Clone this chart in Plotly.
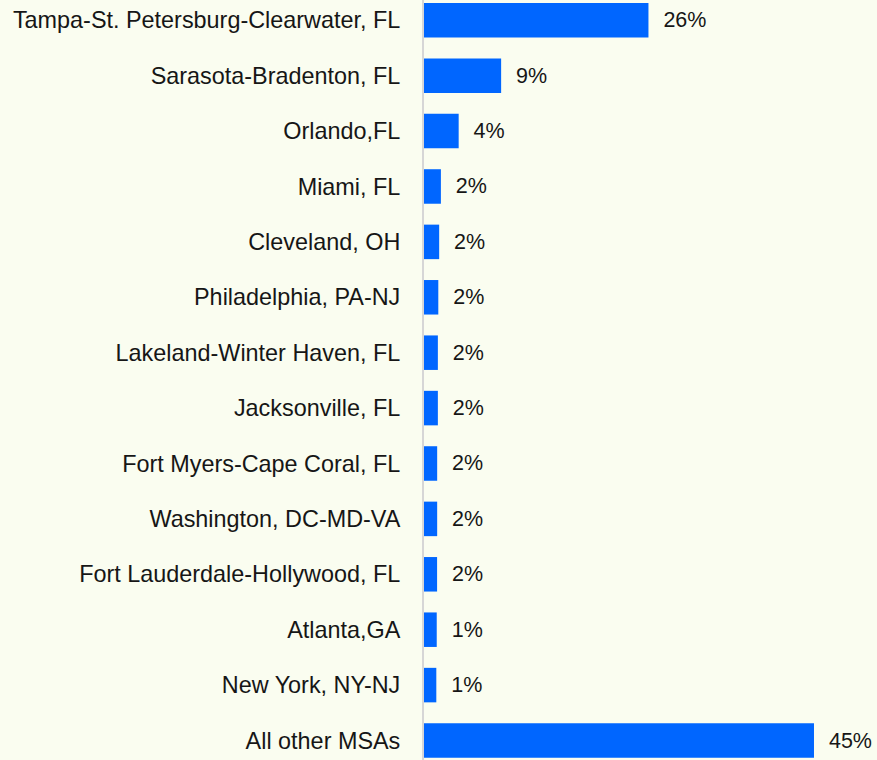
import plotly.graph_objects as go

# Share of total by metro area (percent)
msas = [
    "Tampa-St. Petersburg-Clearwater, FL",
    "Sarasota-Bradenton, FL",
    "Orlando,FL",
    "Miami, FL",
    "Cleveland, OH",
    "Philadelphia, PA-NJ",
    "Lakeland-Winter Haven, FL",
    "Jacksonville, FL",
    "Fort Myers-Cape Coral, FL",
    "Washington, DC-MD-VA",
    "Fort Lauderdale-Hollywood, FL",
    "Atlanta,GA",
    "New York, NY-NJ",
    "All other MSAs",
]
shares = [25.9, 8.9, 4.0, 1.95, 1.75, 1.65, 1.6, 1.6, 1.52, 1.52, 1.51, 1.47, 1.42, 45.0]

BG = "#FAFDF0"
BAR = "#0066FF"
INK = "#161616"
FONT = "Liberation Sans, Arial, sans-serif"

fig = go.Figure(
    go.Bar(
        x=shares,
        y=msas,
        orientation="h",
        width=0.623,
        marker=dict(color=BAR, line=dict(width=0)),
        texttemplate="\u00a0\u00a0%{x:.0f}%",
        textposition="outside",
        textfont=dict(family=FONT, size=21.5, color=INK),
        constraintext="none",
        cliponaxis=False,
        hoverinfo="skip",
    )
)

fig.update_layout(
    width=877,
    height=760,
    margin=dict(l=424, r=0, t=0, b=0),
    paper_bgcolor=BG,
    plot_bgcolor=BG,
    showlegend=False,
    font=dict(family=FONT, color=INK),
)

fig.update_xaxes(
    range=[0, 52.27],
    showgrid=False,
    zeroline=False,
    showticklabels=False,
    showline=False,
)

fig.update_yaxes(
    type="category",
    categoryorder="array",
    categoryarray=msas,
    range=[13.352, -0.366],
    showgrid=False,
    zeroline=False,
    showline=True,
    linecolor="#D6D6D6",
    linewidth=2,
    ticks="",
    ticklabelstandoff=17,
    tickfont=dict(family=FONT, size=23.4, color=INK),
)

fig.write_html("out.html")
